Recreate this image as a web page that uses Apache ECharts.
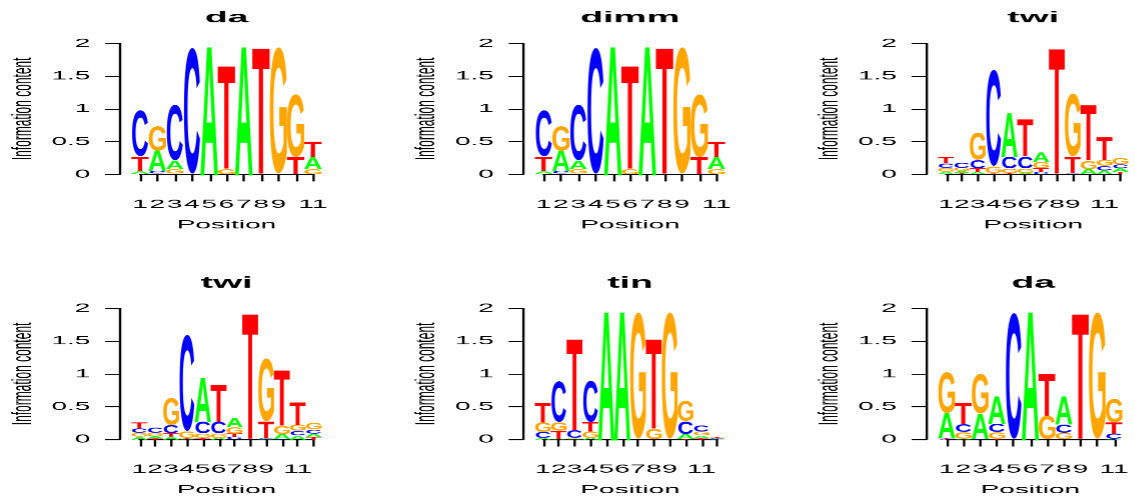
<!DOCTYPE html>
<html><head><meta charset="utf-8">
<script src="https://cdn.jsdelivr.net/npm/echarts@6/dist/echarts.min.js"></script>
<style>
html,body{margin:0;padding:0;background:#fff;overflow:hidden;}
#wrap{width:1135px;height:498px;overflow:hidden;position:relative;background:#fff;}
#chart{position:absolute;left:0;top:0;height:498px;transform-origin:0 0;}
</style></head><body>
<div id="wrap"><div id="chart"></div></div>
<script>
// ---------------- data ----------------
// letter order for every position: [A, C, G, T]  (information content, bits)
const letters = ['A', 'C', 'G', 'T'];
const titles = ['da', 'dimm', 'twi', 'twi', 'tin', 'da'];
const yTicks = [0, 0.5, 1, 1.5, 2];
const hiddenXLabels = [10, 12];

const daLogo = [
  [0.04, 0.70, 0.01, 0.22],
  [0.31, 0.04, 0.37, 0.01],
  [0.13, 0.85, 0.07, 0.01],
  [0.00, 1.92, 0.00, 0.00],
  [1.93, 0.00, 0.00, 0.00],
  [0.00, 0.00, 0.08, 1.56],
  [1.93, 0.00, 0.00, 0.00],
  [0.00, 0.00, 0.00, 1.91],
  [0.00, 0.00, 1.93, 0.00],
  [0.00, 0.00, 0.96, 0.26],
  [0.18, 0.00, 0.08, 0.23]
];
const dimmLogo = [
  [0.04, 0.70, 0.01, 0.22],
  [0.31, 0.04, 0.37, 0.01],
  [0.13, 0.85, 0.07, 0.01],
  [0.00, 1.92, 0.00, 0.00],
  [1.93, 0.00, 0.00, 0.00],
  [0.00, 0.00, 0.08, 1.56],
  [1.93, 0.00, 0.00, 0.00],
  [0.00, 0.00, 0.00, 1.91],
  [0.00, 0.00, 1.93, 0.00],
  [0.00, 0.00, 0.96, 0.26],
  [0.18, 0.00, 0.08, 0.23]
];
const twiLogo = [
  [0.04, 0.07, 0.06, 0.09],
  [0.03, 0.08, 0.05, 0.02],
  [0.04, 0.13, 0.41, 0.05],
  [0.01, 1.47, 0.10, 0.01],
  [0.66, 0.18, 0.07, 0.02],
  [0.02, 0.18, 0.07, 0.56],
  [0.14, 0.04, 0.10, 0.05],
  [0.00, 0.00, 0.00, 1.90],
  [0.01, 0.01, 0.96, 0.25],
  [0.07, 0.01, 0.13, 0.84],
  [0.06, 0.07, 0.09, 0.34],
  [0.05, 0.06, 0.10, 0.04]
];
const twiLogo2 = [
  [0.04, 0.07, 0.06, 0.09],
  [0.03, 0.08, 0.05, 0.02],
  [0.04, 0.13, 0.41, 0.05],
  [0.01, 1.47, 0.10, 0.01],
  [0.66, 0.18, 0.07, 0.02],
  [0.02, 0.18, 0.07, 0.56],
  [0.14, 0.04, 0.10, 0.05],
  [0.00, 0.00, 0.00, 1.90],
  [0.01, 0.01, 0.96, 0.25],
  [0.07, 0.01, 0.13, 0.84],
  [0.06, 0.07, 0.09, 0.34],
  [0.05, 0.06, 0.10, 0.04]
];
const tinLogo = [
  [0.02, 0.09, 0.15, 0.30],
  [0.01, 0.62, 0.13, 0.12],
  [0.01, 0.12, 0.01, 1.38],
  [0.02, 0.63, 0.10, 0.14],
  [1.93, 0.00, 0.00, 0.00],
  [1.93, 0.00, 0.00, 0.00],
  [0.00, 0.00, 1.93, 0.00],
  [0.00, 0.00, 0.16, 1.36],
  [0.00, 0.00, 1.93, 0.00],
  [0.07, 0.20, 0.31, 0.01],
  [0.04, 0.09, 0.06, 0.02],
  [0.005, 0.008, 0.006, 0.015]
];
const da2Logo = [
  [0.38, 0.01, 0.62, 0.01],
  [0.01, 0.12, 0.10, 0.33],
  [0.38, 0.01, 0.60, 0.00],
  [0.41, 0.13, 0.10, 0.01],
  [0.00, 1.92, 0.00, 0.00],
  [1.93, 0.00, 0.00, 0.00],
  [0.00, 0.00, 0.36, 0.64],
  [0.42, 0.13, 0.10, 0.00],
  [0.00, 0.00, 0.00, 1.90],
  [0.00, 0.00, 1.93, 0.00],
  [0.01, 0.08, 0.36, 0.17]
];
const logos = [daLogo, dimmLogo, twiLogo, twiLogo2, tinLogo, da2Logo];

// ---------------- style / layout ----------------
const S = 2.33;                       // horizontal stretch of the original device
const W = 1135 / S, H = 498;
const letterColors = ['#00ff00', '#0000ff', '#ffa500', '#ff0000'];
const letterWidth = [1.0, 0.92, 1.0, 1.0];
const LFONT = 'bold 100px "Liberation Sans", Arial, sans-serif';
const TFONT = '"Liberation Sans", Arial, Helvetica, sans-serif';
const colPlotLeft = [131.4, 534.7, 937.5];   // target px, x = 0.5
const plotW = 190;
const rowTop = [43.3, 308.3];
const rowStep = 265;
const plotH = 131;
const axisGap = 11.5;

const el = document.getElementById('chart');
el.style.width = W + 'px';
el.style.transform = 'scaleX(' + S + ')';

// glyph ink bounds (drawn with centre / middle alignment) for fitting letters into boxes
function glyphBox(L) {
  const N = 400, c = document.createElement('canvas');
  c.width = N; c.height = N;
  const g = c.getContext('2d');
  g.font = LFONT; g.textAlign = 'center'; g.textBaseline = 'middle'; g.fillStyle = '#000';
  g.fillText(L, N / 2, N / 2);
  const d = g.getImageData(0, 0, N, N).data;
  let x0 = N, x1 = -1, y0 = N, y1 = -1;
  for (let y = 0; y < N; y++) for (let x = 0; x < N; x++) {
    if (d[(y * N + x) * 4 + 3] > 127) {
      if (x < x0) x0 = x; if (x > x1) x1 = x; if (y < y0) y0 = y; if (y > y1) y1 = y;
    }
  }
  if (x1 < 0) {
    const m = g.measureText(L);
    return { cx: (m.actualBoundingBoxRight - m.actualBoundingBoxLeft) / 2,
             cy: (m.actualBoundingBoxDescent - m.actualBoundingBoxAscent) / 2,
             w: m.actualBoundingBoxRight + m.actualBoundingBoxLeft,
             h: m.actualBoundingBoxDescent + m.actualBoundingBoxAscent };
  }
  const l = x0 - N / 2, r = x1 + 1 - N / 2, t = y0 - N / 2, b = y1 + 1 - N / 2;
  return { cx: (l + r) / 2, cy: (t + b) / 2, w: r - l, h: b - t };
}
const metrics = letters.map(glyphBox);

function buildStack(logo) {
  const out = [];
  logo.forEach((h, i) => {
    const items = letters.map((L, k) => ({ k, h: h[k] })).filter(o => o.h > 0)
      .sort((a, b) => a.h - b.h);
    let base = 0;
    items.forEach(o => { out.push([i + 1, base, base + o.h, o.k]); base += o.h; });
  });
  return out;
}

function renderItem(params, api) {
  const x = api.value(0), y0 = api.value(1), y1 = api.value(2), k = api.value(3);
  const pL = api.coord([x - 0.5, y0]);
  const pR = api.coord([x + 0.5, y1]);
  const m = metrics[k];
  const bw = (pR[0] - pL[0]) * letterWidth[k];
  const bh = pL[1] - pR[1];
  if (bh <= 0.05) return null;
  const sx = bw / m.w, sy = bh / m.h;
  const xc = (pL[0] + pR[0]) / 2, yc = (pL[1] + pR[1]) / 2;
  return {
    type: 'text', silent: true,
    x: xc - m.cx * sx, y: yc - m.cy * sy, scaleX: sx, scaleY: sy,
    style: { text: letters[k], font: LFONT, fill: letterColors[k], align: 'center', verticalAlign: 'middle' }
  };
}

const grids = [], xAxes = [], yAxes = [], series = [], titleOpts = [];
logos.forEach((logo, i) => {
  const n = logo.length;
  const col = i % 3, row = Math.floor(i / 3);
  const half = plotW / (2 * n);
  grids.push({ left: (colPlotLeft[col] + half) / S, width: (plotW - 2 * half) / S,
               top: rowTop[row], height: plotH, containLabel: false });
  xAxes.push({
    type: 'value', gridIndex: i, min: 1, max: n, interval: 1, offset: 7,
    axisLine: { show: true, lineStyle: { color: '#000', width: 1 } },
    axisTick: { show: true, length: 7, lineStyle: { color: '#000', width: 1 } },
    splitLine: { show: false },
    axisLabel: { show: true, margin: 17, color: '#000', fontSize: 12, fontFamily: TFONT,
                 formatter: v => hiddenXLabels.indexOf(v) >= 0 ? '' : String(v) },
    name: 'Position', nameLocation: 'middle', nameGap: 37.5,
    nameTextStyle: { color: '#000', fontSize: 12, fontFamily: TFONT }
  });
  yAxes.push({
    type: 'value', gridIndex: i, min: yTicks[0], max: yTicks[yTicks.length - 1], interval: 0.5,
    offset: (half + axisGap) / S,
    axisLine: { show: true, lineStyle: { color: '#000', width: 1 } },
    axisTick: { show: true, length: 15 / S, lineStyle: { color: '#000', width: 1 } },
    splitLine: { show: false },
    axisLabel: { show: true, margin: 12.7, color: '#000', fontSize: 12, fontFamily: TFONT,
                 formatter: v => String(v) },
    name: 'Information content', nameLocation: 'middle', nameRotate: 90, nameGap: 35.5,
    nameTextStyle: { color: '#000', fontSize: 12, fontFamily: TFONT }
  });
  series.push({
    type: 'custom', xAxisIndex: i, yAxisIndex: i, clip: false, animation: false,
    renderItem: renderItem, data: buildStack(logo)
  });
  titleOpts.push({
    text: titles[i], left: (colPlotLeft[col] + plotW / 2) / S, top: 10 + row * rowStep,
    textAlign: 'center', padding: 0,
    textStyle: { color: '#000', fontSize: 16, fontWeight: 'bold', fontFamily: TFONT }
  });
});

const chart = echarts.init(el, null, { renderer: 'canvas', devicePixelRatio: S });
chart.setOption({
  animation: false,
  backgroundColor: '#fff',
  title: titleOpts,
  grid: grids, xAxis: xAxes, yAxis: yAxes, series: series
});
</script>
</body></html>
